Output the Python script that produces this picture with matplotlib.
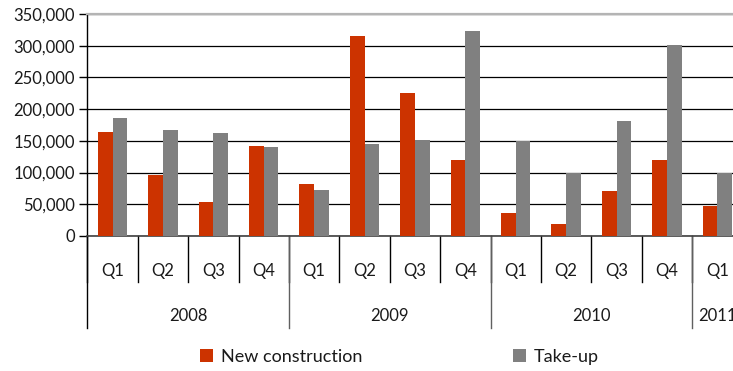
import matplotlib
matplotlib.use("Agg")
import matplotlib.pyplot as plt
from matplotlib.patches import Patch
from matplotlib.ticker import FuncFormatter

quarters = ["Q1", "Q2", "Q3", "Q4", "Q1", "Q2", "Q3", "Q4", "Q1", "Q2", "Q3", "Q4", "Q1"]
years = ["2008", "2009", "2010", "2011"]
year_sizes = [4, 4, 4, 1]
new_construction = [163500, 96000, 53500, 141500, 82000, 316000, 225000, 119500,
                    36000, 19000, 71000, 119500, 47000]
take_up = [185500, 166500, 162000, 140000, 72000, 145000, 151000, 322500,
           150500, 100000, 181000, 300500, 100000]
series_names = ["New construction", "Take-up"]

RED = "#CC3300"
GRAY = "#808080"
FONT = "Lato"
FS = 12

plt.rcParams["font.family"] = [FONT, "DejaVu Sans"]

W, H = 733, 371
fig = plt.figure(figsize=(W / 100, H / 100), dpi=100)
left_px, right_px, top_px, bot_px = 87.3, 742.5, 14, 236
ax = fig.add_axes([left_px / W, (H - bot_px) / H, (right_px - left_px) / W, (bot_px - top_px) / H])

n = len(quarters)
x = list(range(n))
bw = 0.29
ax.bar([i - bw / 2 for i in x], new_construction, width=bw, color=RED, zorder=3)
ax.bar([i + bw / 2 for i in x], take_up, width=bw, color=GRAY, zorder=3)

ax.set_xlim(-0.5, n - 0.5)
ax.set_ylim(0, 350000)
ax.set_yticks(range(0, 350001, 50000))
ax.yaxis.set_major_formatter(FuncFormatter(lambda v, p: f"{int(v):,}"))
ax.tick_params(axis="y", direction="out", length=6, width=1, color="black",
               labelsize=FS, pad=3, labelcolor="#1a1a1a")
ax.set_xticks([])
ax.grid(axis="y", color="black", linewidth=0.9, zorder=0)
ax.spines["right"].set_visible(False)
ax.spines["top"].set_color("#b4b4b4")
ax.spines["top"].set_linewidth(1.6)
ax.spines["left"].set_color("black")
ax.spines["left"].set_linewidth(1)
ax.spines["bottom"].set_color("#404040")
ax.spines["bottom"].set_linewidth(1.2)

# multi-level category axis
axh = bot_px - top_px
q_bot = -(282 - bot_px) / axh
y_bot = -(328 - bot_px) / axh
q_lab = -(271 - bot_px) / axh
y_lab = -(316 - bot_px) / axh
tr = ax.get_xaxis_transform()
for i in range(n + 1):
    ax.plot([i - 0.5, i - 0.5], [0, q_bot], transform=tr, color="black", lw=1, clip_on=False)
for i, q in enumerate(quarters):
    ax.text(i, q_lab, q, transform=tr, ha="center", va="center", fontsize=FS, color="#1a1a1a")
start = 0
for yr, sz in zip(years, year_sizes):
    ax.plot([start - 0.5, start - 0.5], [0, y_bot], transform=tr,
            color="black" if start == 0 else "#606060", lw=1, clip_on=False)
    ax.text(start + (sz - 1) / 2, y_lab, yr, transform=tr, ha="center", va="center",
            fontsize=FS, color="#1a1a1a")
    start += sz

# legend
for name, col, xpx in zip(series_names, [RED, GRAY], [200, 513]):
    fig.legend(handles=[Patch(facecolor=col, edgecolor="none")], labels=[name],
               loc="center left", bbox_to_anchor=(xpx / W, 1 - 357 / H),
               frameon=False, fontsize=13, handlelength=0.7, handleheight=0.7,
               handletextpad=0.45, borderpad=0, borderaxespad=0, labelcolor="#1a1a1a")

fig.savefig("out.png", dpi=100)
